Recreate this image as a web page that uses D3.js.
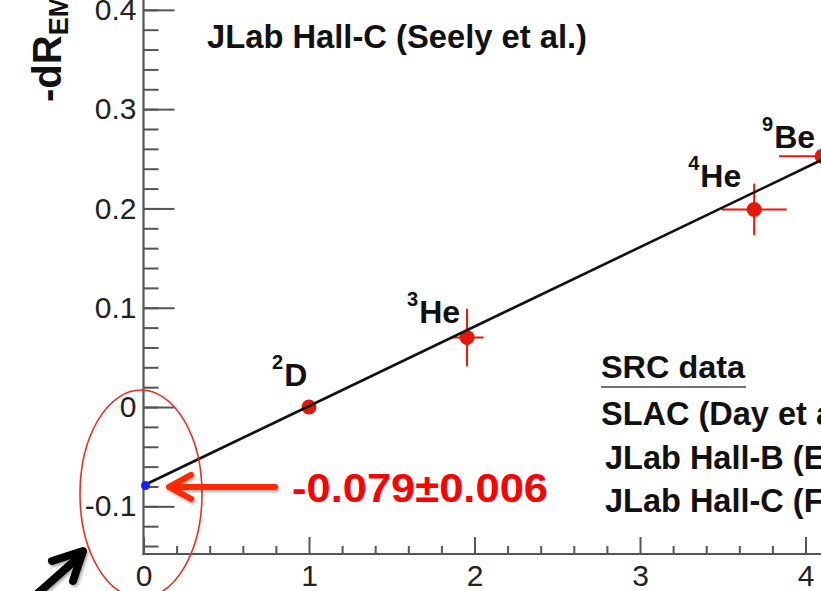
<!DOCTYPE html>
<html>
<head>
<meta charset="utf-8">
<script src="https://cdn.jsdelivr.net/npm/d3@7"></script>
<style>
  body { margin: 0; background: #fff; overflow: hidden; }
  svg { display: block; }
  text { font-family: "Liberation Sans", Arial, Helvetica, sans-serif; }
</style>
</head>
<body>
<svg id="chart" width="821" height="591"></svg>
<script>
// SRC scaling factor (a2) vs. EMC slope per nucleus
const massNumbers = ["2", "3", "4", "9"];
const elements = ["D", "He", "He", "Be"];
const srcScale = [1.0, 1.955, 3.69, 4.1];
const srcScaleErr = [0.03, 0.10, 0.196, 0.26];
const emcSlope = [0.0, 0.070, 0.199, 0.2525];
const emcSlopeErr = [0.005, 0.029, 0.026, 0.05];

// linear fit, extrapolated to zero SRC
const fitIntercept = -0.079;
const fitInterceptErr = 0.006;
const fitSlope = 0.080;

const xTickValues = [0, 1, 2, 3, 4];
const yTickValues = [-0.1, 0, 0.1, 0.2, 0.3, 0.4];

const yTitle = "-dR";
const ySub = "EMC";
const emcLegend = ["JLab Hall-C (Seely et al.)"];
const srcLegendTitle = "SRC data";
const srcLegend = ["SLAC (Day et al.)", "JLab Hall-B (Egiyan et al.)", "JLab Hall-C (Fomin et al.)"];

const svg = d3.select("#chart");

const x0 = 143.5, xUnit = 165.5;
const yBottom = 554, yUnit = 993;
const xMin = 0, xMax = 4.6, yMin = -0.148, yMax = 0.45;

const x = d3.scaleLinear().domain([xMin, xMax]).range([x0, x0 + xUnit * (xMax - xMin)]);
const y = d3.scaleLinear().domain([yMin, yMax]).range([yBottom, yBottom - yUnit * (yMax - yMin)]);

const defs = svg.append("defs");
const shadow = defs.append("filter").attr("id", "shadow")
  .attr("x", "-20%").attr("y", "-50%").attr("width", "140%").attr("height", "200%");
shadow.append("feDropShadow").attr("dx", 1.5).attr("dy", 2).attr("stdDeviation", 1.5)
  .attr("flood-color", "#000").attr("flood-opacity", 0.35);

const axisColor = "#555";
const labelColor = "#222";
const tickFont = 30;

// plain hyphen for negative tick labels
const yFmt = d => d === 0 ? "0" : (d < 0 ? "-" : "") + Math.abs(d).toFixed(1);

// ---- y axis: minor ticks, major ticks with labels
const yMinorTicks = d3.range(-0.14, 0.4401, 0.02).map(v => +v.toFixed(2));
svg.append("g")
  .attr("transform", `translate(${x0},0)`)
  .call(d3.axisLeft(y).tickValues(yMinorTicks).tickSizeInner(-15).tickSizeOuter(0).tickFormat(""))
  .call(g => g.select(".domain").remove())
  .call(g => g.selectAll("line").attr("stroke", axisColor).attr("stroke-width", 2));

const yAxisG = svg.append("g")
  .attr("transform", `translate(${x0},0)`)
  .call(d3.axisLeft(y).tickValues(yTickValues).tickSizeInner(-31).tickSizeOuter(0).tickPadding(7)
        .tickFormat(yFmt));
yAxisG.select(".domain").remove();
yAxisG.selectAll("line").attr("stroke", axisColor).attr("stroke-width", 2);
yAxisG.selectAll("text").attr("font-size", tickFont).attr("fill", labelColor)
  .style("font-family", "'Liberation Sans', Arial, sans-serif");

// ---- x axis
const xMinorTicks = d3.range(0.2, 4.41, 0.2).map(v => +v.toFixed(1)).filter(v => Math.abs(v - Math.round(v)) > 1e-6);
svg.append("g")
  .attr("transform", `translate(0,${yBottom})`)
  .call(d3.axisBottom(x).tickValues(xMinorTicks).tickSizeInner(-8).tickSizeOuter(0).tickFormat(""))
  .call(g => g.select(".domain").remove())
  .call(g => g.selectAll("line").attr("stroke", axisColor).attr("stroke-width", 2));

const xAxisG = svg.append("g")
  .attr("transform", `translate(0,${yBottom})`)
  .call(d3.axisBottom(x).tickValues(xTickValues).tickSizeInner(-17).tickSizeOuter(0).tickPadding(11)
        .tickFormat(d3.format("d")));
xAxisG.select(".domain").remove();
xAxisG.selectAll("line").attr("stroke", axisColor).attr("stroke-width", 2);
xAxisG.selectAll("text").attr("font-size", tickFont).attr("fill", labelColor)
  .style("font-family", "'Liberation Sans', Arial, sans-serif");

// axis lines
svg.append("line").attr("x1", x0).attr("x2", x0).attr("y1", y(yMin) + 1).attr("y2", y(yMax))
  .attr("stroke", axisColor).attr("stroke-width", 2.2);
svg.append("line").attr("x1", x0 - 1).attr("x2", x(xMax)).attr("y1", yBottom).attr("y2", yBottom)
  .attr("stroke", axisColor).attr("stroke-width", 2.2);

// ---- y axis title (rotated, with subscript)
const yt = svg.append("text")
  .attr("transform", "translate(61,102) rotate(-90)")
  .attr("font-size", 40).attr("font-weight", "bold").attr("fill", "#111");
yt.append("tspan").text(yTitle);
yt.append("tspan").attr("font-size", 27).attr("dy", 7).text(ySub);

// ---- EMC legend text at the top
svg.selectAll("text.emcleg").data(emcLegend).join("text")
  .attr("class", "emcleg")
  .attr("x", 207).attr("y", 48)
  .attr("font-size", 32.5).attr("font-weight", "bold").attr("fill", "#111")
  .attr("textLength", 380).attr("lengthAdjust", "spacingAndGlyphs")
  .text(d => d);

// ---- SRC legend block
svg.append("text").attr("x", 601).attr("y", 378)
  .attr("font-size", 32).attr("font-weight", "bold").attr("fill", "#111")
  .attr("textLength", 144).attr("lengthAdjust", "spacingAndGlyphs")
  .text(srcLegendTitle);
svg.append("line").attr("x1", 601).attr("x2", 746).attr("y1", 387).attr("y2", 387)
  .attr("stroke", "#444").attr("stroke-width", 1.6);
const legX = [601, 605, 605];
const legY = [425, 469, 512];
svg.selectAll("text.srcleg").data(srcLegend).join("text")
  .attr("class", "srcleg")
  .attr("x", (d, i) => legX[i]).attr("y", (d, i) => legY[i])
  .attr("font-size", 32.5).attr("font-weight", "bold").attr("fill", "#111")
  .text(d => d);

// ---- data points with error bars
const red = "#e3170a";
const pts = srcScale.map((a, i) => ({
  a, ae: srcScaleErr[i], s: emcSlope[i], se: emcSlopeErr[i],
  mass: massNumbers[i], el: elements[i]
}));

const pg = svg.append("g");
pg.selectAll("line.ex").data(pts).join("line").attr("class", "ex")
  .attr("x1", d => x(d.a - d.ae)).attr("x2", d => x(d.a + d.ae))
  .attr("y1", d => y(d.s)).attr("y2", d => y(d.s))
  .attr("stroke", red).attr("stroke-width", 2);
pg.selectAll("line.ey").data(pts).join("line").attr("class", "ey")
  .attr("x1", d => x(d.a)).attr("x2", d => x(d.a))
  .attr("y1", d => y(d.s - d.se)).attr("y2", d => y(d.s + d.se))
  .attr("stroke", red).attr("stroke-width", 2);
pg.selectAll("circle").data(pts).join("circle")
  .attr("cx", d => x(d.a)).attr("cy", d => y(d.s)).attr("r", 7.5)
  .attr("fill", red);

// nucleus labels placed relative to their points
const labelOffset = [[-37, -21], [-60, -15], [-66, -22], [-60, -8]];
const lab = svg.selectAll("text.nuc").data(pts).join("text")
  .attr("class", "nuc")
  .attr("x", (d, i) => x(d.a) + labelOffset[i][0])
  .attr("y", (d, i) => y(d.s) + labelOffset[i][1])
  .attr("font-weight", "bold").attr("fill", "#111");
lab.append("tspan").attr("font-size", 20).attr("dy", -17).text(d => d.mass);
lab.append("tspan").attr("font-size", 32).attr("dx", 1).attr("dy", 17).text(d => d.el);

// ---- fit line
svg.append("line")
  .attr("x1", x(0)).attr("y1", y(fitIntercept))
  .attr("x2", x(xMax)).attr("y2", y(fitIntercept + fitSlope * xMax))
  .attr("stroke", "#111").attr("stroke-width", 2.6);

// intercept point
svg.append("circle").attr("cx", x(0) + 2).attr("cy", y(fitIntercept)).attr("r", 4.5).attr("fill", "#1020ff");

// ---- annotation: ellipse around the intercept
svg.append("ellipse").attr("cx", 141).attr("cy", 494).attr("rx", 61).attr("ry", 104)
  .attr("fill", "none").attr("stroke", "#e8301e").attr("stroke-width", 1.6);

// red arrow pointing at the intercept
const ay = y(fitIntercept) + 1.5;
const arrow = svg.append("g").attr("filter", "url(#shadow)")
  .attr("stroke", "#ff2a00").attr("fill", "none").attr("stroke-linecap", "round").attr("stroke-linejoin", "round");
arrow.append("line").attr("x1", 275).attr("x2", 172).attr("y1", ay).attr("y2", ay).attr("stroke-width", 6);
arrow.append("polyline").attr("points", `${191},${ay - 12} ${169},${ay} ${191},${ay + 12}`).attr("stroke-width", 6);

svg.append("text").attr("x", 292).attr("y", 502)
  .attr("font-size", 41).attr("font-weight", "bold").attr("fill", "#ff0000")
  .attr("textLength", 256).attr("lengthAdjust", "spacingAndGlyphs")
  .text(`${fitIntercept.toFixed(3)}\u00b1${fitInterceptErr.toFixed(3)}`);

// black arrow at bottom left
const barrow = svg.append("g").attr("filter", "url(#shadow)")
  .attr("stroke", "#000").attr("fill", "none").attr("stroke-linecap", "round").attr("stroke-linejoin", "round");
barrow.append("line").attr("x1", 28).attr("y1", 602).attr("x2", 80).attr("y2", 556).attr("stroke-width", 8);
barrow.append("polyline").attr("points", "52,561 83,551 73,581").attr("stroke-width", 8);
</script>
</body>
</html>
